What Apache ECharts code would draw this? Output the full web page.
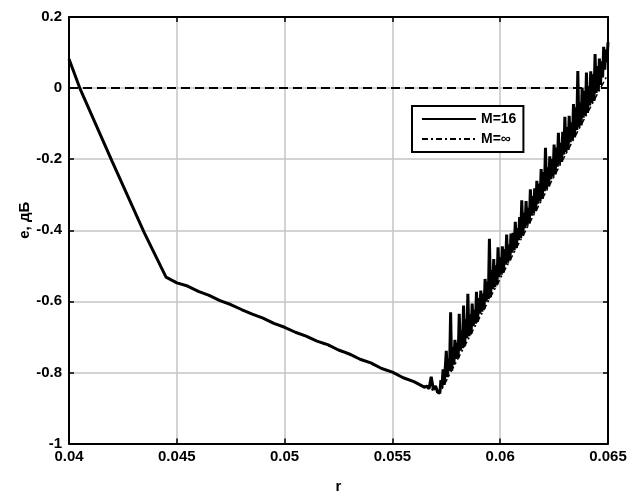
<!DOCTYPE html>
<html>
<head>
<meta charset="utf-8">
<script src="https://cdn.jsdelivr.net/npm/echarts@6/dist/echarts.min.js"></script>
<style>
html,body{margin:0;padding:0;background:#fff;}
#c{width:631px;height:494px;}
</style>
</head>
<body>
<div id="c"></div>
<script>
// ---- data ----
const seriesNames = ['M=16', 'M=\u221E'];
const xRange = [0.04, 0.065];
const yRange = [-1, 0.2];
const zeroLevel = 0;

// M = infinity: piecewise-linear curve
const rInf = [0.04, 0.0405, 0.042, 0.0435, 0.0445, 0.045, 0.05, 0.055, 0.0572, 0.0611, 0.065];
const eInf = [0.082, 0.0, -0.206, -0.408, -0.532, -0.546, -0.674, -0.801, -0.858, -0.41, 0.04];

// M = 16: same curve with fluctuations
const m16Falling = [
  [0.04,0.082],[0.0405,0.0],[0.042,-0.206],[0.0435,-0.408],[0.0445,-0.532],
  [0.045,-0.548],[0.0455,-0.557],[0.046,-0.572],[0.0465,-0.583],[0.047,-0.598],
  [0.0475,-0.609],[0.048,-0.623],[0.0485,-0.636],[0.049,-0.647],[0.0495,-0.662],
  [0.05,-0.673],[0.0505,-0.687],[0.051,-0.698],[0.0515,-0.712],[0.052,-0.722],
  [0.0525,-0.737],[0.053,-0.748],[0.0535,-0.763],[0.054,-0.773],[0.0545,-0.789],
  [0.055,-0.799],[0.0555,-0.815],[0.056,-0.826],[0.0565,-0.842],[0.0566,-0.838],
  [0.0567,-0.846],[0.0568,-0.812],[0.0569,-0.849],[0.057,-0.838],[0.0571,-0.856]
];
const m16Rising = [
  [0.0572,-0.858],[0.05725,-0.822],[0.0573,-0.842],[0.05735,-0.791],[0.0574,-0.835],
  [0.05745,-0.789],[0.0575,-0.739],[0.05755,-0.813],[0.0576,-0.762],[0.05765,-0.796],
  [0.0577,-0.631],[0.05775,-0.795],[0.0578,-0.729],[0.05785,-0.778],[0.0579,-0.708],
  [0.05795,-0.762],[0.058,-0.716],[0.05805,-0.760],[0.0581,-0.635],[0.05815,-0.739],
  [0.0582,-0.683],[0.05825,-0.732],[0.0583,-0.612],[0.05835,-0.726],[0.0584,-0.650],
  [0.05845,-0.704],[0.0585,-0.579],[0.05855,-0.698],[0.0586,-0.637],[0.05865,-0.691],
  [0.0587,-0.606],[0.05875,-0.670],[0.0588,-0.624],[0.05885,-0.663],[0.0589,-0.573],
  [0.05895,-0.657],[0.059,-0.591],[0.05905,-0.635],[0.0591,-0.570],[0.05915,-0.629],
  [0.0592,-0.578],[0.05925,-0.622],[0.0593,-0.537],[0.05935,-0.601],[0.0594,-0.545],
  [0.05945,-0.594],[0.0595,-0.424],[0.05955,-0.588],[0.0596,-0.512],[0.05965,-0.566],
  [0.0597,-0.481],[0.05975,-0.560],[0.0598,-0.499],[0.05985,-0.553],[0.0599,-0.448],
  [0.05995,-0.532],[0.06,-0.476],[0.06005,-0.525],[0.0601,-0.445],[0.06015,-0.519],
  [0.0602,-0.453],[0.06025,-0.497],[0.0603,-0.412],[0.06035,-0.491],[0.0604,-0.440],
  [0.06045,-0.484],[0.0605,-0.409],[0.06055,-0.463],[0.0606,-0.407],[0.06065,-0.456],
  [0.0607,-0.376],[0.06075,-0.450],[0.0608,-0.394],[0.06085,-0.428],[0.0609,-0.363],
  [0.06095,-0.422],[0.061,-0.316],[0.06105,-0.415],[0.0611,-0.350],[0.06115,-0.394],
  [0.0612,-0.318],[0.06125,-0.387],[0.0613,-0.337],[0.06135,-0.381],[0.0614,-0.285],
  [0.06145,-0.359],[0.0615,-0.304],[0.06155,-0.353],[0.0616,-0.282],[0.06165,-0.346],
  [0.0617,-0.261],[0.06175,-0.325],[0.0618,-0.269],[0.06185,-0.318],[0.0619,-0.228],
  [0.06195,-0.312],[0.062,-0.236],[0.06205,-0.290],[0.0621,-0.168],[0.06215,-0.284],
  [0.0622,-0.223],[0.06225,-0.277],[0.0623,-0.192],[0.06235,-0.256],[0.0624,-0.200],
  [0.06245,-0.249],[0.0625,-0.159],[0.06255,-0.243],[0.0626,-0.167],[0.06265,-0.221],
  [0.0627,-0.126],[0.06275,-0.215],[0.0628,-0.154],[0.06285,-0.208],[0.0629,-0.123],
  [0.06295,-0.187],[0.063,-0.081],[0.06305,-0.180],[0.0631,-0.110],[0.06315,-0.174],
  [0.0632,-0.078],[0.06325,-0.152],[0.0633,-0.097],[0.06335,-0.146],[0.0634,-0.045],
  [0.06345,-0.139],[0.0635,-0.054],[0.06355,-0.118],[0.0636,0.048],[0.06365,-0.111],
  [0.0637,-0.041],[0.06375,-0.105],[0.0638,0.001],[0.06385,-0.083],[0.0639,-0.008],
  [0.06395,-0.077],[0.064,0.044],[0.06405,-0.070],[0.0641,0.006],[0.06415,-0.049],
  [0.0642,0.047],[0.06425,-0.042],[0.0643,0.039],[0.06435,-0.036],[0.0644,0.096],
  [0.06445,-0.014],[0.0645,0.062],[0.06455,-0.008],[0.0646,0.083],[0.06465,0.009],
  [0.0647,0.075],[0.06475,0.030],[0.0648,0.116],[0.06485,0.052],[0.0649,0.108],
  [0.06495,0.073],[0.065,0.129]
];

// ---- chart ----
const font = "'Liberation Sans', Arial, sans-serif";
const labelStyle = {color:'#000', fontFamily:font, fontWeight:'bold', fontSize:15};
const chart = echarts.init(document.getElementById('c'), null, {renderer:'canvas'});

const axisCommon = {
  type:'value',
  axisLine:{show:true, onZero:false, lineStyle:{color:'#000', width:2}},
  axisTick:{show:true, inside:true, length:5, lineStyle:{color:'#000', width:1.5}},
  splitLine:{show:false}
};

chart.setOption({
  backgroundColor:'#fff',
  animation:false,
  grid:{left:69, right:23, top:17, bottom:50.5, containLabel:false, outerBoundsMode:'none'},
  legend:{
    show:true,
    data:seriesNames,
    orient:'vertical',
    left:412, top:106,
    backgroundColor:'#fff',
    borderColor:'#000', borderWidth:2, borderRadius:0,
    padding:[6,7,6,9],
    itemGap:6,
    itemWidth:54, itemHeight:14,
    itemStyle:{opacity:0},
    textStyle:{color:'#000', fontFamily:font, fontWeight:'bold', fontSize:14}
  },
  xAxis:[
    Object.assign({}, axisCommon, {
      position:'bottom', min:xRange[0], max:xRange[1], interval:0.005,
      name:'r', nameLocation:'middle', nameGap:36, nameMoveOverlap:false,
      nameTextStyle:labelStyle,
      axisLabel:Object.assign({margin:6}, labelStyle),
      splitLine:{show:true, lineStyle:{color:'#c4c4c4', width:1.5}}
    }),
    Object.assign({}, axisCommon, {
      position:'top', min:xRange[0], max:xRange[1], interval:0.005,
      axisLabel:{show:false}
    })
  ],
  yAxis:[
    Object.assign({}, axisCommon, {
      position:'left', min:yRange[0], max:yRange[1], interval:0.2,
      name:'\u0435, \u0434\u0411', nameLocation:'middle', nameGap:37, nameMoveOverlap:false,
      nameTextStyle:Object.assign({padding:[0,0,0,20]}, labelStyle),
      axisLabel:Object.assign({margin:7}, labelStyle),
      splitLine:{show:true, lineStyle:{color:'#c4c4c4', width:1.5}}
    }),
    Object.assign({}, axisCommon, {
      position:'right', min:yRange[0], max:yRange[1], interval:0.2,
      axisLabel:{show:false}
    })
  ],
  series:[
    {
      name:seriesNames[0], type:'line',
      data:m16Falling.concat(m16Rising),
      symbol:'none', smooth:false,
      lineStyle:{color:'#000', width:3},
      itemStyle:{color:'#000'},
      z:3
    },
    {
      name:seriesNames[1], type:'line',
      data:rInf.map((r,i)=>[r, eInf[i]]),
      symbol:'none', smooth:false,
      lineStyle:{color:'#000', width:1.5, type:[6,3,2,3]},
      itemStyle:{color:'#000'},
      z:4,
      markLine:{
        silent:true, symbol:'none',
        label:{show:false},
        lineStyle:{color:'#000', width:1.8, type:[9,5]},
        data:[{yAxis:zeroLevel}]
      }
    }
  ]
});
</script>
</body>
</html>
